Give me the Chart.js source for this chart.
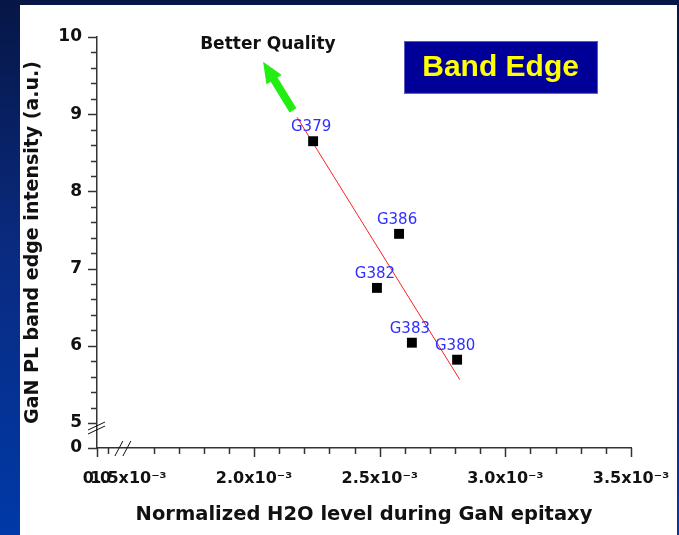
<!DOCTYPE html>
<html>
<head>
<meta charset="utf-8">
<script src="https://cdn.jsdelivr.net/npm/chart.js@4.4.1/dist/chart.umd.min.js"></script>
<style>
  html, body { margin: 0; padding: 0; }
  body {
    width: 679px; height: 535px; overflow: hidden; position: relative;
    background: linear-gradient(to bottom, #061646 0%, #0a2a7e 45%, #0039a8 100%);
  }
  #panel { position: absolute; left: 20px; top: 5px; width: 657px; height: 530px; background: #fff; }
  canvas { display: block; }
</style>
</head>
<body>
<div id="panel"><canvas id="chart" width="657" height="530"></canvas></div>
<script>
// samples
const sampleNames = ["G379", "G386", "G382", "G383", "G380"];
const h2oLevel = [0.002235, 0.002577, 0.002489, 0.002628, 0.002808];
const bandEdge = [8.65, 7.45, 6.75, 6.04, 5.82];

// linear fit, end points
const fitX = [0.002171, 0.002819];
const fitY = [8.96, 5.56];

// axes (both broken near the origin)
const xMin = 0.001375, xMax = 0.0035;
const yMin = 4.676, yMax = 10;
const xTickValues = [0.0015, 0.002, 0.0025, 0.003, 0.0035];
const xTickLabels = ["1.5x10⁻³", "2.0x10⁻³", "2.5x10⁻³", "3.0x10⁻³", "3.5x10⁻³"];
const yTickValues = [5, 6, 7, 8, 9, 10];
const yTickLabels = ["5", "6", "7", "8", "9", "10"];
const xOriginLabel = "0.0", yOriginLabel = "0";
const xFirstMinor = 0.001419;
const xBreak = 0.001478, yBreak = 4.935;

// annotations
const arrowFrom = [0.002155, 9.05], arrowTo = [0.002036, 9.68];
const noteText = "Better Quality", notePos = [0.002055, 9.9];
const boxText = "Band Edge", boxFrom = [0.002597, 9.948], boxTo = [0.003365, 9.275];

const same = (a, b) => Math.abs(a - b) < 1e-9;

const decor = {
  id: "decor",
  afterDraw(chart) {
    const { ctx, chartArea, scales: { x, y } } = chart;
    ctx.save();

    // tick marks
    ctx.strokeStyle = "#333";
    ctx.lineWidth = 1.5;
    ctx.beginPath();
    x.ticks.forEach((t) => {
      if (same(t.value, 0.0015)) return;
      const px = Math.round(x.getPixelForValue(t.value)) + 0.5;
      const len = t.label ? 9 : 6;
      ctx.moveTo(px, chartArea.bottom);
      ctx.lineTo(px, chartArea.bottom + len);
    });
    y.ticks.forEach((t) => {
      const py = Math.round(y.getPixelForValue(t.value)) + 0.5;
      const len = t.label ? 9 : 6;
      ctx.moveTo(chartArea.left, py);
      ctx.lineTo(chartArea.left - len, py);
    });
    ctx.stroke();

    // break marks
    ctx.lineWidth = 1;
    ctx.strokeStyle = "#111";
    ctx.beginPath();
    const bx = x.getPixelForValue(xBreak), by = chartArea.bottom;
    [-4, 4].forEach((o) => {
      ctx.moveTo(bx + o - 4, by + 8);
      ctx.lineTo(bx + o + 4, by - 7);
    });
    const cx = chartArea.left, cy = y.getPixelForValue(yBreak);
    [-2, 2].forEach((o) => {
      ctx.moveTo(cx - 9, cy + o + 4);
      ctx.lineTo(cx + 8, cy + o - 4);
    });
    ctx.stroke();

    // point labels
    ctx.fillStyle = "#2f2fff";
    ctx.font = "15px 'DejaVu Sans'";
    ctx.textAlign = "center";
    ctx.textBaseline = "middle";
    sampleNames.forEach((n, i) => {
      ctx.fillText(n, x.getPixelForValue(h2oLevel[i]) - 2, y.getPixelForValue(bandEdge[i]) - 14);
    });

    // green arrow
    const x0 = x.getPixelForValue(arrowFrom[0]), y0 = y.getPixelForValue(arrowFrom[1]);
    const x1 = x.getPixelForValue(arrowTo[0]), y1 = y.getPixelForValue(arrowTo[1]);
    const len = Math.hypot(x1 - x0, y1 - y0);
    ctx.save();
    ctx.translate(x0, y0);
    ctx.rotate(Math.atan2(y1 - y0, x1 - x0));
    ctx.fillStyle = "#22ee11";
    ctx.beginPath();
    ctx.moveTo(0, -4); ctx.lineTo(len - 21, -4); ctx.lineTo(len - 21, -9);
    ctx.lineTo(len, 0);
    ctx.lineTo(len - 21, 9); ctx.lineTo(len - 21, 4); ctx.lineTo(0, 4);
    ctx.closePath();
    ctx.fill();
    ctx.restore();

    // note
    ctx.fillStyle = "#111";
    ctx.font = "bold 17px 'DejaVu Sans'";
    ctx.fillText(noteText, x.getPixelForValue(notePos[0]), y.getPixelForValue(notePos[1]));

    // Band Edge box
    const l = x.getPixelForValue(boxFrom[0]), t = y.getPixelForValue(boxFrom[1]);
    const r = x.getPixelForValue(boxTo[0]), b = y.getPixelForValue(boxTo[1]);
    ctx.fillStyle = "#000099";
    ctx.fillRect(l, t, r - l, b - t);
    ctx.strokeStyle = "#5a5ac0";
    ctx.lineWidth = 1;
    ctx.strokeRect(Math.round(l) + 0.5, Math.round(t) + 0.5, r - l, b - t);
    ctx.fillStyle = "#ffff00";
    ctx.font = "bold 30px 'Liberation Sans'";
    ctx.fillText(boxText, (l + r) / 2, (t + b) / 2 + 1);

    ctx.restore();
  }
};

new Chart(document.getElementById("chart"), {
  type: "scatter",
  data: {
    datasets: [
      {
        data: fitX.map((v, i) => ({ x: v, y: fitY[i] })),
        showLine: true,
        borderColor: "#ff2020",
        borderWidth: 1,
        pointRadius: 0,
        order: 2
      },
      {
        data: h2oLevel.map((v, i) => ({ x: v, y: bandEdge[i] })),
        pointStyle: "rect",
        pointRadius: 7,
        pointBorderWidth: 0,
        backgroundColor: "#000",
        borderColor: "#000",
        order: 1
      }
    ]
  },
  options: {
    responsive: false,
    animation: false,
    devicePixelRatio: 1,
    layout: { padding: { left: 0, top: 32, right: 46, bottom: 0 } },
    plugins: { legend: { display: false }, tooltip: { enabled: false } },
    scales: {
      x: {
        type: "linear",
        min: xMin,
        max: xMax,
        afterBuildTicks: (scale) => {
          const ticks = [{ value: xMin }, { value: xFirstMinor }];
          for (let i = 15; i <= 35; i++) ticks.push({ value: i / 10000 });
          scale.ticks = ticks;
        },
        afterFit: (scale) => {
          scale.height = 87;
          scale.paddingLeft = 0;
          scale.paddingRight = 0;
        },
        grid: { display: false, drawTicks: false },
        border: { display: true, color: "#333", width: 1.5 },
        ticks: {
          autoSkip: false, maxRotation: 0, minRotation: 0, padding: 21,
          color: "#111",
          font: { family: "'DejaVu Sans'", size: 16, weight: "bold" },
          callback: (v) => {
            if (same(v, xMin)) return xOriginLabel;
            const k = xTickValues.findIndex((t) => same(t, v));
            return k >= 0 ? xTickLabels[k] : "";
          }
        },
        title: {
          display: true,
          text: "Normalized H2O level during GaN epitaxy",
          color: "#111",
          font: { family: "'DejaVu Sans'", size: 19.5, weight: "bold" },
          padding: { top: 0, bottom: 8 }
        }
      },
      y: {
        type: "linear",
        min: yMin,
        max: yMax,
        afterBuildTicks: (scale) => {
          const ticks = [{ value: yMin }];
          for (let i = 25; i <= 50; i++) ticks.push({ value: i / 5 });
          scale.ticks = ticks;
        },
        afterFit: (scale) => {
          scale.width = 77;
          scale.paddingTop = 0;
          scale.paddingBottom = 0;
        },
        grid: { display: false, drawTicks: false },
        border: { display: true, color: "#333", width: 1.5 },
        ticks: {
          autoSkip: false, padding: 15,
          color: "#111",
          font: { family: "'DejaVu Sans'", size: 17, weight: "bold" },
          callback: (v) => {
            if (same(v, yMin)) return yOriginLabel;
            const k = yTickValues.findIndex((t) => same(t, v));
            return k >= 0 ? yTickLabels[k] : "";
          }
        },
        title: {
          display: true,
          text: "GaN PL band edge intensity (a.u.)",
          color: "#111",
          font: { family: "'DejaVu Sans'", size: 19, weight: "bold" },
          padding: { top: 2, bottom: 0 }
        }
      }
    }
  },
  plugins: [decor]
});
</script>
</body>
</html>
